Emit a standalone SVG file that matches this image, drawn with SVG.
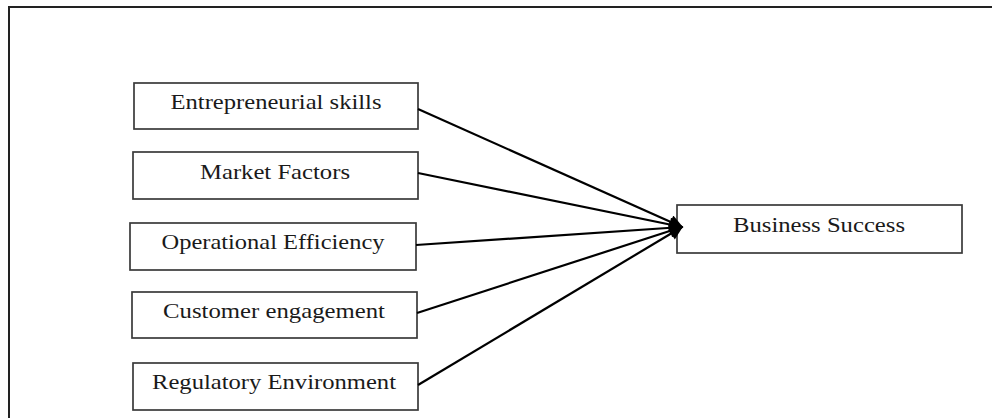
<svg xmlns="http://www.w3.org/2000/svg" width="992" height="418" viewBox="0 0 992 418">
<style>
.box{fill:#fff;stroke:#3a3a3a;stroke-width:1.7}
.lbl{font-family:"Liberation Serif","Times New Roman",serif;font-size:21px;fill:#1a1a1a;text-anchor:middle}
.con{stroke:#000;stroke-width:2.2;fill:none;marker-end:url(#ah)}
.frame{stroke:#222;stroke-width:2;fill:none}
</style>
<defs>
<marker id="ah" viewBox="0 0 10 10" refX="9" refY="5" markerWidth="18" markerHeight="14" markerUnits="userSpaceOnUse" orient="auto">
<path d="M0,0 L10,5 L0,10 z" fill="#000"/>
</marker>
</defs>
<rect width="992" height="418" fill="#fff"/>
<path class="frame" d="M9,418 L9,7 L992,7"/>
<g id="n1"><rect class="box" x="134" y="83" width="284" height="46"/><text class="lbl" x="276" y="109" textLength="211" lengthAdjust="spacingAndGlyphs">Entrepreneurial skills</text></g>
<g id="n2"><rect class="box" x="133" y="152" width="285" height="47"/><text class="lbl" x="275" y="179" textLength="150" lengthAdjust="spacingAndGlyphs">Market Factors</text></g>
<g id="n3"><rect class="box" x="130" y="223" width="286" height="47"/><text class="lbl" x="273" y="249" textLength="223" lengthAdjust="spacingAndGlyphs">Operational Efficiency</text></g>
<g id="n4"><rect class="box" x="132" y="292" width="285" height="46"/><text class="lbl" x="274" y="318" textLength="222" lengthAdjust="spacingAndGlyphs">Customer engagement</text></g>
<g id="n5"><rect class="box" x="133" y="363" width="285" height="47"/><text class="lbl" x="274" y="389" textLength="244" lengthAdjust="spacingAndGlyphs">Regulatory Environment</text></g>
<g id="n6"><rect class="box" x="677" y="205" width="285" height="48"/><text class="lbl" x="819" y="232" textLength="172" lengthAdjust="spacingAndGlyphs">Business Success</text></g>
<g id="connectors">
<line class="con" x1="418" y1="109" x2="682" y2="227"/>
<line class="con" x1="418" y1="173" x2="682" y2="227"/>
<line class="con" x1="416" y1="245" x2="682" y2="227"/>
<line class="con" x1="417" y1="313" x2="682" y2="227"/>
<line class="con" x1="418" y1="385" x2="682" y2="227"/>
</g>
</svg>
